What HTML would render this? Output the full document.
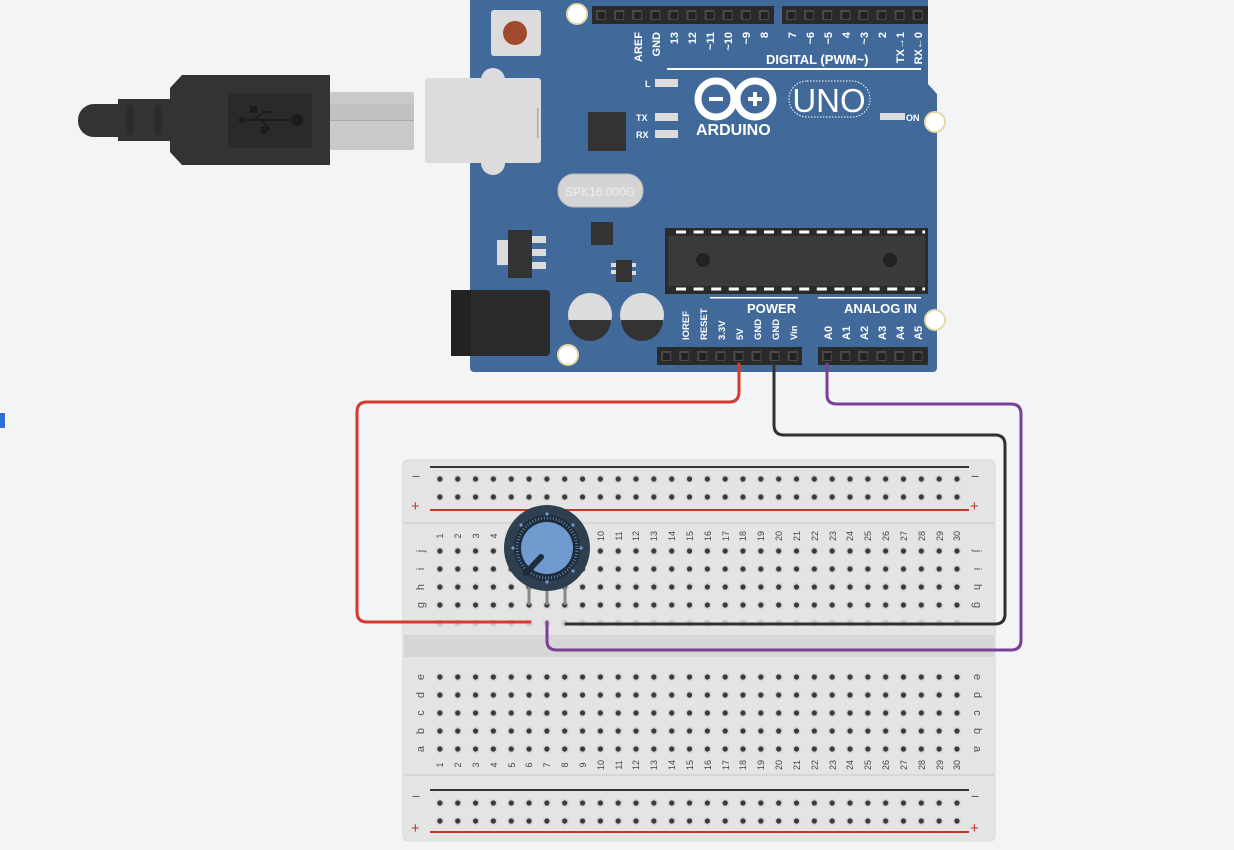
<!DOCTYPE html>
<html><head><meta charset="utf-8"><style>
html,body{margin:0;padding:0;background:#f3f4f6;}
svg{display:block;font-family:"Liberation Sans",sans-serif;}
</style></head><body>
<svg width="1234" height="850" viewBox="0 0 1234 850" xmlns="http://www.w3.org/2000/svg">
<defs>
<pattern id="h" x="431" y="2" width="17.83" height="18" patternUnits="userSpaceOnUse">
<circle cx="8.9" cy="9" r="4" fill="#d2d2d2"/><circle cx="8.9" cy="9" r="2.6" fill="#3a3a3a"/></pattern>
<pattern id="hf" x="431" y="2" width="17.83" height="18" patternUnits="userSpaceOnUse">
<circle cx="8.9" cy="9" r="4" fill="#d8d8d8"/><circle cx="8.9" cy="9" r="2.6" fill="#c4c4c4"/></pattern>
<pattern id="p1" x="592" y="6" width="18.1" height="18" patternUnits="userSpaceOnUse">
<rect x="4" y="4" width="10" height="10" fill="#4a4a4a"/><rect x="6" y="6" width="7" height="7" fill="#222"/></pattern>
<pattern id="p2" x="782" y="6" width="18.1" height="18" patternUnits="userSpaceOnUse">
<rect x="4" y="4" width="10" height="10" fill="#4a4a4a"/><rect x="6" y="6" width="7" height="7" fill="#222"/></pattern>
<pattern id="p3" x="657" y="347" width="18.1" height="18" patternUnits="userSpaceOnUse">
<rect x="4" y="4" width="10" height="10" fill="#4a4a4a"/><rect x="6" y="6" width="7" height="7" fill="#222"/></pattern>
<pattern id="p4" x="818" y="347" width="18.1" height="18" patternUnits="userSpaceOnUse">
<rect x="4" y="4" width="10" height="10" fill="#4a4a4a"/><rect x="6" y="6" width="7" height="7" fill="#222"/></pattern>
</defs>
<rect width="1234" height="850" fill="#f3f4f6"/>
<rect x="0" y="412" width="7" height="17" fill="#fff"/><rect x="0" y="413" width="5" height="15" fill="#2f6ddb"/>

<!-- USB cable -->
<path d="M78,120 a16,16 0 0 1 16,-16 h26 v33 h-26 a16,16 0 0 1 -16,-17z" fill="#333"/>
<rect x="118" y="99" width="52" height="42" fill="#333"/>
<ellipse cx="130" cy="120" rx="4" ry="15" fill="#2a2a2a"/><ellipse cx="158" cy="120" rx="4" ry="15" fill="#2a2a2a"/>
<path d="M170,88 l12,-13 h148 v90 h-148 l-12,-13z" fill="#333"/>
<rect x="228" y="93" width="84" height="55" fill="#2a2a2a"/>
<g stroke="#1c1c1c" stroke-width="2" fill="none"><path d="M242,120 h55"/><path d="M255,120 l8,-8 h8"/><path d="M262,120 l8,10"/></g>
<rect x="250" y="106" width="7" height="7" fill="#1c1c1c"/><circle cx="297" cy="120" r="6" fill="#1c1c1c"/><circle cx="264" cy="130" r="4" fill="#1c1c1c"/><path d="M237,120 l7,-4 v8z" fill="#1c1c1c"/>
<rect x="330" y="92" width="84" height="58" rx="2" fill="#c9c9c9"/><rect x="330" y="104" width="84" height="16" fill="#c2c2c2"/><rect x="330" y="120" width="84" height="1" fill="#aaa"/>

<!-- Arduino board -->
<path d="M474,0 H928 V84 L937,94 V368 a4,4 0 0 1 -4,4 H474 a4,4 0 0 1 -4,-4 V0z" fill="#41699a"/>
<circle cx="493" cy="80" r="12" fill="#dcdcdc"/><circle cx="493" cy="163" r="12" fill="#dcdcdc"/>
<rect x="425" y="78" width="116" height="85" rx="3" fill="#dcdcdc"/>
<rect x="537" y="108" width="1.5" height="30" fill="#aaa"/>
<circle cx="577" cy="14" r="10" fill="#fff" stroke="#e6d9a8" stroke-width="2"/>
<circle cx="935" cy="122" r="10" fill="#fff" stroke="#e6d9a8" stroke-width="2"/>
<circle cx="935" cy="320" r="10" fill="#fff" stroke="#e6d9a8" stroke-width="2"/>
<circle cx="568" cy="355" r="10" fill="#fff" stroke="#e6d9a8" stroke-width="2"/>
<rect x="491" y="10" width="50" height="46" rx="3" fill="#dcdcdc"/><circle cx="515" cy="33" r="12" fill="#a0492d"/>
<!-- headers -->
<rect x="592" y="6" width="182" height="18" fill="#2a2a2a"/><rect x="592" y="6" width="182" height="18" fill="url(#p1)"/>
<rect x="782" y="6" width="146" height="18" fill="#2a2a2a"/><rect x="782" y="6" width="146" height="18" fill="url(#p2)"/>
<rect x="657" y="347" width="145" height="18" fill="#2a2a2a"/><rect x="657" y="347" width="145" height="18" fill="url(#p3)"/>
<rect x="818" y="347" width="110" height="18" fill="#2a2a2a"/><rect x="818" y="347" width="110" height="18" fill="url(#p4)"/>
<g fill="#fff" font-weight="bold" font-size="11">
<text transform="translate(642,32) rotate(-90)" text-anchor="end">AREF</text>
<text transform="translate(660,32) rotate(-90)" text-anchor="end">GND</text>
<text transform="translate(678,32) rotate(-90)" text-anchor="end">13</text>
<text transform="translate(696,32) rotate(-90)" text-anchor="end">12</text>
<text transform="translate(714,32) rotate(-90)" text-anchor="end">~11</text>
<text transform="translate(732,32) rotate(-90)" text-anchor="end">~10</text>
<text transform="translate(750,32) rotate(-90)" text-anchor="end">~9</text>
<text transform="translate(768,32) rotate(-90)" text-anchor="end">8</text>
<text transform="translate(796,32) rotate(-90)" text-anchor="end">7</text>
<text transform="translate(814,32) rotate(-90)" text-anchor="end">~6</text>
<text transform="translate(832,32) rotate(-90)" text-anchor="end">~5</text>
<text transform="translate(850,32) rotate(-90)" text-anchor="end">4</text>
<text transform="translate(868,32) rotate(-90)" text-anchor="end">~3</text>
<text transform="translate(886,32) rotate(-90)" text-anchor="end">2</text>
<text transform="translate(904,32) rotate(-90)" text-anchor="end">TX→1</text>
<text transform="translate(922,32) rotate(-90)" text-anchor="end">RX←0</text>
<text x="766" y="64" font-size="13">DIGITAL (PWM~)</text>
<text x="747" y="313" font-size="13">POWER</text>
<text x="844" y="313" font-size="13">ANALOG IN</text>
<text transform="translate(689,340) rotate(-90)" font-size="9.5">IOREF</text>
<text transform="translate(707,340) rotate(-90)" font-size="9.5">RESET</text>
<text transform="translate(725,340) rotate(-90)" font-size="9.5">3.3V</text>
<text transform="translate(743,340) rotate(-90)" font-size="9.5">5V</text>
<text transform="translate(761,340) rotate(-90)" font-size="9.5">GND</text>
<text transform="translate(779,340) rotate(-90)" font-size="9.5">GND</text>
<text transform="translate(797,340) rotate(-90)" font-size="9.5">Vin</text>
<text transform="translate(832,340) rotate(-90)">A0</text>
<text transform="translate(850,340) rotate(-90)">A1</text>
<text transform="translate(868,340) rotate(-90)">A2</text>
<text transform="translate(886,340) rotate(-90)">A3</text>
<text transform="translate(904,340) rotate(-90)">A4</text>
<text transform="translate(922,340) rotate(-90)">A5</text>
<text x="645" y="87" font-size="9">L</text><text x="636" y="121" font-size="9">TX</text><text x="636" y="138" font-size="9">RX</text>
<text x="906" y="121" font-size="9">ON</text>
<text x="696" y="135" font-size="16">ARDUINO</text>
</g>
<rect x="667" y="68" width="254" height="2" fill="#fff"/>
<rect x="710" y="297" width="88" height="1.5" fill="#fff"/><rect x="818" y="297" width="103" height="1.5" fill="#fff"/>
<g fill="#dcdcdc"><rect x="655" y="79" width="23" height="8"/><rect x="655" y="113" width="23" height="8"/><rect x="655" y="130" width="23" height="8"/><rect x="880" y="113" width="25" height="7"/></g>
<rect x="588" y="112" width="38" height="39" fill="#333"/>
<g fill="none" stroke="#fff" stroke-width="7"><circle cx="716" cy="99" r="18"/><circle cx="755" cy="99" r="18"/></g>
<g fill="#fff"><rect x="709" y="97" width="14" height="4"/><rect x="748" y="97" width="14" height="4"/><rect x="753" y="92" width="4" height="14"/></g>
<rect x="789" y="81" width="81" height="36" rx="18" fill="none" stroke="#fff" stroke-dasharray="1.5 1.5"/>
<text x="829" y="112" text-anchor="middle" fill="#fff" font-size="33">UNO</text>
<rect x="558" y="174" width="85" height="33" rx="16" fill="#d4d4d4" stroke="#bbb"/>
<text x="600" y="196" text-anchor="middle" fill="#eee" font-size="12">SPK16.000G</text>
<rect x="591" y="222" width="22" height="23" fill="#333"/>
<rect x="497" y="240" width="14" height="25" fill="#dcdcdc"/><rect x="508" y="230" width="24" height="48" fill="#333"/>
<g fill="#dcdcdc"><rect x="532" y="236" width="14" height="7"/><rect x="532" y="249" width="14" height="7"/><rect x="532" y="262" width="14" height="7"/><rect x="611" y="263" width="5" height="4"/><rect x="611" y="270" width="5" height="4"/><rect x="631" y="263" width="5" height="4"/><rect x="631" y="271" width="5" height="4"/></g>
<rect x="616" y="260" width="16" height="22" fill="#333"/>
<rect x="451" y="290" width="99" height="66" rx="4" fill="#2b2b2b"/><rect x="451" y="290" width="20" height="66" fill="#222"/>
<g><circle cx="590" cy="315" r="22" fill="#dcdcdc"/><path d="M569,320 h42 a21,21 0 0 1 -42,0z" fill="#333"/>
<circle cx="642" cy="315" r="22" fill="#dcdcdc"/><path d="M621,320 h42 a21,21 0 0 1 -42,0z" fill="#333"/></g>
<rect x="665" y="228" width="263" height="66" fill="#2a2a2a"/><rect x="668" y="236" width="257" height="50" fill="#3a3a3a"/>
<path d="M676,232 H925 M676,289 H925" stroke="#fff" stroke-width="3" stroke-dasharray="10 7.6"/>
<circle cx="703" cy="260" r="7" fill="#222"/><circle cx="890" cy="260" r="7" fill="#222"/>

<!-- breadboard -->
<rect x="403" y="460" width="592" height="381" rx="5" fill="#e4e4e4" stroke="#d8d8d8"/>
<rect x="404" y="522" width="590" height="2" fill="#d6d6d6"/>
<rect x="404" y="635" width="590" height="22" fill="#d6d6d6"/>
<rect x="404" y="774" width="590" height="2" fill="#d6d6d6"/>
<rect x="430" y="466" width="539" height="2" fill="#333"/><rect x="430" y="509" width="539" height="2" fill="#c0392b"/>
<rect x="430" y="789" width="539" height="2" fill="#333"/><rect x="430" y="831" width="539" height="2" fill="#c0392b"/>
<rect x="431" y="470" width="535" height="36" fill="url(#h)"/>
<rect x="431" y="542" width="535" height="72" fill="url(#h)"/>
<rect x="431" y="614" width="535" height="18" fill="url(#hf)"/>
<rect x="431" y="668" width="535" height="90" fill="url(#h)"/>
<rect x="431" y="793" width="535" height="36" fill="url(#h)"/>
<g font-size="14" fill="#555"><text x="412" y="481">−</text><text x="412" y="801">−</text><text x="971" y="481">−</text><text x="971" y="801">−</text></g>
<g font-size="15" fill="#c0392b"><text x="411" y="511">+</text><text x="411" y="833">+</text><text x="970" y="511">+</text><text x="970" y="833">+</text></g>
<g font-size="11" fill="#555">
<text transform="translate(424,551) rotate(-90)" text-anchor="middle">j</text>
<text transform="translate(424,569) rotate(-90)" text-anchor="middle">i</text>
<text transform="translate(424,587) rotate(-90)" text-anchor="middle">h</text>
<text transform="translate(424,605) rotate(-90)" text-anchor="middle">g</text>
<text transform="translate(424,677) rotate(-90)" text-anchor="middle">e</text>
<text transform="translate(424,695) rotate(-90)" text-anchor="middle">d</text>
<text transform="translate(424,713) rotate(-90)" text-anchor="middle">c</text>
<text transform="translate(424,731) rotate(-90)" text-anchor="middle">b</text>
<text transform="translate(424,749) rotate(-90)" text-anchor="middle">a</text>
<text transform="translate(974,551) rotate(90)" text-anchor="middle">j</text>
<text transform="translate(974,569) rotate(90)" text-anchor="middle">i</text>
<text transform="translate(974,587) rotate(90)" text-anchor="middle">h</text>
<text transform="translate(974,605) rotate(90)" text-anchor="middle">g</text>
<text transform="translate(974,677) rotate(90)" text-anchor="middle">e</text>
<text transform="translate(974,695) rotate(90)" text-anchor="middle">d</text>
<text transform="translate(974,713) rotate(90)" text-anchor="middle">c</text>
<text transform="translate(974,731) rotate(90)" text-anchor="middle">b</text>
<text transform="translate(974,749) rotate(90)" text-anchor="middle">a</text>
</g>
<g font-size="9" fill="#444" text-anchor="middle">
<text transform="translate(443,536) rotate(-90)">1</text><text transform="translate(461,536) rotate(-90)">2</text><text transform="translate(479,536) rotate(-90)">3</text><text transform="translate(497,536) rotate(-90)">4</text><text transform="translate(515,536) rotate(-90)">5</text><text transform="translate(532,536) rotate(-90)">6</text><text transform="translate(550,536) rotate(-90)">7</text><text transform="translate(568,536) rotate(-90)">8</text><text transform="translate(586,536) rotate(-90)">9</text><text transform="translate(604,536) rotate(-90)">10</text><text transform="translate(622,536) rotate(-90)">11</text><text transform="translate(639,536) rotate(-90)">12</text><text transform="translate(657,536) rotate(-90)">13</text><text transform="translate(675,536) rotate(-90)">14</text><text transform="translate(693,536) rotate(-90)">15</text><text transform="translate(711,536) rotate(-90)">16</text><text transform="translate(729,536) rotate(-90)">17</text><text transform="translate(746,536) rotate(-90)">18</text><text transform="translate(764,536) rotate(-90)">19</text><text transform="translate(782,536) rotate(-90)">20</text><text transform="translate(800,536) rotate(-90)">21</text><text transform="translate(818,536) rotate(-90)">22</text><text transform="translate(836,536) rotate(-90)">23</text><text transform="translate(853,536) rotate(-90)">24</text><text transform="translate(871,536) rotate(-90)">25</text><text transform="translate(889,536) rotate(-90)">26</text><text transform="translate(907,536) rotate(-90)">27</text><text transform="translate(925,536) rotate(-90)">28</text><text transform="translate(943,536) rotate(-90)">29</text><text transform="translate(960,536) rotate(-90)">30</text>
<text transform="translate(443,765) rotate(-90)">1</text><text transform="translate(461,765) rotate(-90)">2</text><text transform="translate(479,765) rotate(-90)">3</text><text transform="translate(497,765) rotate(-90)">4</text><text transform="translate(515,765) rotate(-90)">5</text><text transform="translate(532,765) rotate(-90)">6</text><text transform="translate(550,765) rotate(-90)">7</text><text transform="translate(568,765) rotate(-90)">8</text><text transform="translate(586,765) rotate(-90)">9</text><text transform="translate(604,765) rotate(-90)">10</text><text transform="translate(622,765) rotate(-90)">11</text><text transform="translate(639,765) rotate(-90)">12</text><text transform="translate(657,765) rotate(-90)">13</text><text transform="translate(675,765) rotate(-90)">14</text><text transform="translate(693,765) rotate(-90)">15</text><text transform="translate(711,765) rotate(-90)">16</text><text transform="translate(729,765) rotate(-90)">17</text><text transform="translate(746,765) rotate(-90)">18</text><text transform="translate(764,765) rotate(-90)">19</text><text transform="translate(782,765) rotate(-90)">20</text><text transform="translate(800,765) rotate(-90)">21</text><text transform="translate(818,765) rotate(-90)">22</text><text transform="translate(836,765) rotate(-90)">23</text><text transform="translate(853,765) rotate(-90)">24</text><text transform="translate(871,765) rotate(-90)">25</text><text transform="translate(889,765) rotate(-90)">26</text><text transform="translate(907,765) rotate(-90)">27</text><text transform="translate(925,765) rotate(-90)">28</text><text transform="translate(943,765) rotate(-90)">29</text><text transform="translate(960,765) rotate(-90)">30</text>
</g>

<!-- potentiometer -->
<g stroke="#888" stroke-width="3"><path d="M529,585 V605"/><path d="M547,585 V605"/><path d="M565,585 V605"/></g>
<circle cx="547" cy="548" r="43" fill="#2e3f4f"/>
<circle cx="547" cy="548" r="33" fill="#1e2b38"/>
<circle cx="547" cy="548" r="30" fill="none" stroke="#5a7fa8" stroke-width="3" stroke-dasharray="1 2"/>
<circle cx="547" cy="548" r="26" fill="#6f9bd0"/>
<path d="M541,557 L526,573" stroke="#1e2b38" stroke-width="6" stroke-linecap="round"/>
<g fill="#6f9bd0"><circle cx="547" cy="514" r="1.6"/><circle cx="547" cy="582" r="1.6"/><circle cx="513" cy="548" r="1.6"/><circle cx="581" cy="548" r="1.6"/><circle cx="573" cy="525" r="1.6"/><circle cx="521" cy="525" r="1.6"/><circle cx="573" cy="571" r="1.6"/></g>

<!-- wires -->
<g fill="none" stroke-width="3" stroke-linecap="round">
<path d="M739,364 V392 Q739,402 729,402 H367 Q357,402 357,412 V612 Q357,622 367,622 H530" stroke="#d63a2e"/>
<path d="M774,364 V425 Q774,435 784,435 H995 Q1005,435 1005,445 V614 Q1005,624 995,624 H566" stroke="#2f3133"/>
<path d="M827,364 V395 Q827,404 837,404 H1011 Q1021,404 1021,414 V640 Q1021,650 1011,650 H557 Q547,650 547,641 V622" stroke="#7b3f98"/>
</g>
</svg>
</body></html>
